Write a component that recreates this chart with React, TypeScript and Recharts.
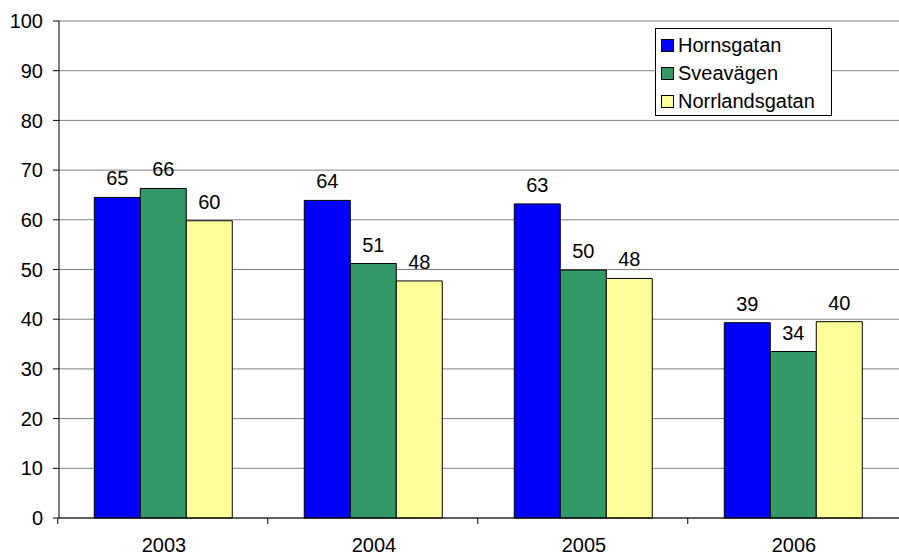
import React from "react";
import { BarChart, Bar, XAxis, YAxis, CartesianGrid, LabelList } from "recharts";

const years = ["2003", "2004", "2005", "2006"];
const hornsgatan = [64.5, 63.9, 63.2, 39.3];
const sveavagen = [66.3, 51.2, 49.9, 33.5];
const norrlandsgatan = [59.8, 47.7, 48.2, 39.5];
const yTicks = [0, 10, 20, 30, 40, 50, 60, 70, 80, 90, 100];

const series = [
  { key: "Hornsgatan", color: "#0000FF" },
  { key: "Sveavägen", color: "#339966" },
  { key: "Norrlandsgatan", color: "#FFFF99" },
];

const data = years.map((year, i) => ({
  year,
  Hornsgatan: hornsgatan[i],
  Sveavägen: sveavagen[i],
  Norrlandsgatan: norrlandsgatan[i],
}));

const font = "'Liberation Sans', Arial, sans-serif";

// tick label plus the small boundary mark Excel puts between categories
const XTick = (props: any) => {
  const { x, y, payload } = props;
  const half = 212.5 / 2;
  return (
    <g>
      <line x1={x - half} y1={y - 8} x2={x - half} y2={y - 2} stroke="#000" />
      <text x={x} y={y + 26} textAnchor="middle" fontSize={20} fontFamily={font} fill="#000">
        {payload.value}
      </text>
    </g>
  );
};

const LegendBox = () => (
  <div
    style={{
      position: "absolute",
      left: 655,
      top: 28,
      width: 170,
      height: 84,
      border: "1px solid #000",
      background: "#fff",
      padding: "2px 0 0 5px",
      boxSizing: "content-box",
      fontFamily: font,
      fontSize: 20,
      lineHeight: "28px",
    }}
  >
    {series.map((s) => (
      <div key={s.key} style={{ display: "flex", alignItems: "center" }}>
        <span
          style={{
            width: 11,
            height: 11,
            background: s.color,
            border: "1px solid #000",
            marginRight: 4,
            display: "inline-block",
          }}
        />
        {s.key}
      </div>
    ))}
  </div>
);

export default function App() {
  return (
    <div style={{ position: "absolute", left: 0, top: 0, width: 899, height: 556, background: "#fff" }}>
      <BarChart
        width={899}
        height={556}
        data={data}
        margin={{ top: 21, right: 0, bottom: 0, left: 0 }}
        barCategoryGap="16.8%"
        barGap={0}
      >
        <CartesianGrid vertical={false} stroke="#808080" />
        <XAxis
          dataKey="year"
          stroke="#000"
          tickLine={false}
          tick={<XTick />}
          height={38}
        />
        <YAxis
          domain={[0, 100]}
          ticks={yTicks}
          interval={0}
          width={59}
          stroke="#000"
          tickSize={6}
          tickMargin={10}
          tick={{ fontSize: 20, fontFamily: font, fill: "#000" }}
        />
        {series.map((s) => (
          <Bar key={s.key} dataKey={s.key} fill={s.color} stroke="#000" strokeWidth={1} isAnimationActive={false}>
            <LabelList
              dataKey={s.key}
              position="top"
              offset={12}
              formatter={(v: any) => Math.round(Number(v))}
              style={{ fontSize: 20, fontFamily: font, fill: "#000" }}
            />
          </Bar>
        ))}
      </BarChart>
      <LegendBox />
    </div>
  );
}
